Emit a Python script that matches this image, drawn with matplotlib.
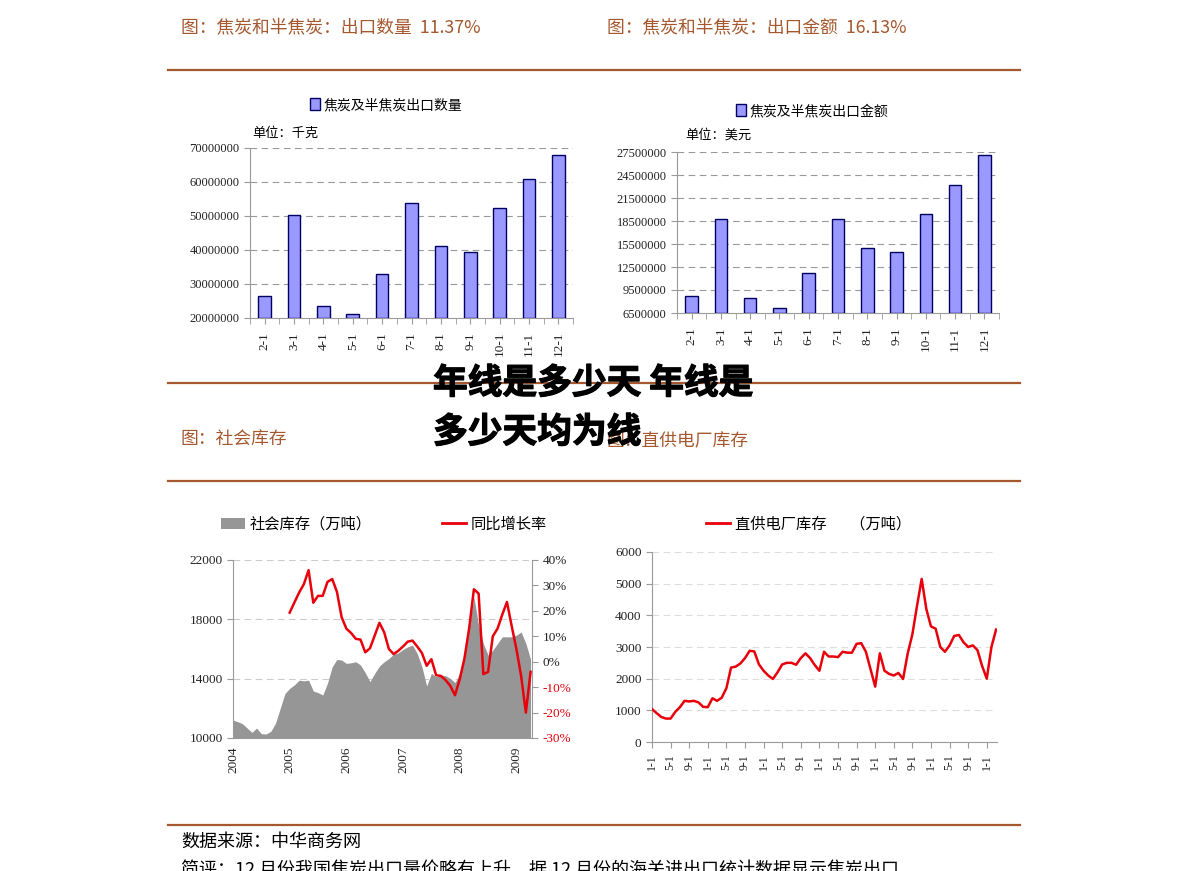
import numpy as np
import matplotlib.pyplot as plt
import matplotlib.patheffects as pe
from matplotlib.patches import Patch
from matplotlib.lines import Line2D

plt.rcParams['font.family'] = ['Liberation Serif', 'Noto Sans CJK SC']

W, H = 1191, 871
BROWN = '#A5582E'
GRAY_AX = '#9a9a9a'

# ---- data ----
bar_months = ['2-1', '3-1', '4-1', '5-1', '6-1', '7-1', '8-1', '9-1', '10-1', '11-1', '12-1']
export_qty = [26.5e6, 50.2e6, 23.5e6, 21.3e6, 32.9e6, 53.8e6, 41.2e6, 39.3e6, 52.3e6, 61.0e6, 67.8e6]
export_val = [8.7e6, 18.8e6, 8.4e6, 7.1e6, 11.7e6, 18.7e6, 15.0e6, 14.4e6, 19.4e6, 23.2e6, 27.1e6]

# social stock, monthly 2004-01 .. 2009-04
social_stock = [11200, 11100, 10960, 10670, 10380, 10670, 10290, 10270, 10450, 11000, 12000, 13000,
                13350, 13580, 13900, 13850, 13900, 13170, 13060, 12900, 13690, 14800, 15300, 15250,
                15030, 15070, 15140, 14920, 14400, 13800, 14360, 14850, 15140, 15360, 15650, 15740,
                15970, 16150, 16260, 15700, 14800, 13500, 14360, 14130, 14250, 14200, 14020, 13730,
                14360, 15480, 17490, 19500, 17600, 16370, 15590, 15920, 16370, 16820, 16820, 16820,
                16930, 17150, 16370, 15300]
# yoy growth (%), monthly 2005-01 .. 2009-04
yoy_growth = [19.3, 23.3, 27.2, 30.5, 36.0, 23.2, 25.9, 25.9, 31.4, 32.5, 27.5, 17.5,
              13.0, 11.3, 9.0, 8.7, 3.7, 5.3, 10.3, 15.3, 11.6, 5.0, 3.0, 4.3,
              6.0, 7.9, 8.3, 6.0, 3.4, -1.6, 1.0, -5.3, -5.6, -7.2, -9.5, -13.2,
              -6.9, 1.3, 13.2, 28.5, 26.8, -4.9, -4.0, 10.0, 13.0, 18.5, 23.5, 14.0,
              5.0, -5.6, -20.0, -4.0]
year_labels = ['2004', '2005', '2006', '2007', '2008', '2009']

# direct-supply power plant stock, monthly
plant_stock = [1040, 910, 790, 740, 740, 950, 1100, 1300, 1280, 1300, 1250, 1110,
               1100, 1380, 1300, 1400, 1700, 2350, 2380, 2480, 2650, 2880, 2860, 2450,
               2250, 2100, 1990, 2200, 2450, 2500, 2500, 2440, 2650, 2800, 2650, 2430,
               2250, 2850, 2700, 2700, 2680, 2850, 2820, 2820, 3100, 3120, 2850, 2300,
               1750, 2800, 2250, 2150, 2100, 2180, 1990, 2800, 3400, 4300, 5150, 4200,
               3650, 3580, 3000, 2850, 3050, 3350, 3380, 3150, 3000, 3050, 2900, 2400,
               2000, 3000, 3550]
plant_tick_labels = ['1-1', '5-1', '9-1']

footer_note = '简评：12 月份我国焦炭出口量价略有上升，据 12 月份的海关进出口统计数据显示焦炭出口'

fig = plt.figure(figsize=(W / 100, H / 100), dpi=100)


def px_axes(l, t, r, b):
    return fig.add_axes([l / W, 1 - b / H, (r - l) / W, (b - t) / H])


def fx(x):
    return x / W


def fy(y):
    return 1 - y / H


def style_axes(ax):
    for s in ['top', 'right']:
        ax.spines[s].set_visible(False)
    for s in ['left', 'bottom']:
        ax.spines[s].set_color(GRAY_AX)
    ax.tick_params(colors=GRAY_AX, labelcolor='#222222', length=4)


# ---- separator lines and headers ----
for y in [70, 383, 481, 825]:
    fig.add_artist(Line2D([fx(168), fx(1020)], [fy(y), fy(y)], color=BROWN, lw=1.6))

hdr = dict(color=BROWN, fontsize=12.8, va='center', family=['Noto Sans CJK SC'])
fig.text(fx(181), fy(28), '图：焦炭和半焦炭：出口数量  11.37%', **hdr)
fig.text(fx(607), fy(28), '图：焦炭和半焦炭：出口金额  16.13%', **hdr)
fig.text(fx(181), fy(440), '图：社会库存', **hdr)
fig.text(fx(607), fy(440), '图：直供电厂库存', **hdr)

# ---- bar charts ----
def bar_chart(box, values, ticks, unit, unit_xy, legend_label, legend_xy):
    ax = px_axes(*box)
    x = np.arange(len(values))
    base = ticks[0]
    ax.bar(x, np.array(values) - base, bottom=base, width=0.43,
           color='#9999FF', edgecolor='#000060', lw=1, zorder=3)
    ax.set_xlim(-0.5, len(values) - 0.5)
    ax.set_ylim(ticks[0], ticks[-1])
    ax.set_yticks(ticks)
    ax.set_yticklabels([str(int(t)) for t in ticks], fontsize=9)
    ax.set_xticks(x)
    ax.set_xticklabels(bar_months, rotation=90, fontsize=9.5)
    ax.tick_params(axis='x', length=0, pad=6)
    ax.set_xticks(np.arange(len(values) + 1) - 0.5, minor=True)
    ax.tick_params(axis='x', which='minor', length=4, color=GRAY_AX)
    for t in ticks[1:]:
        ax.axhline(t, color='#999999', lw=0.8, ls=(0, (6, 4)), zorder=1)
    style_axes(ax)
    fig.text(fx(unit_xy[0]), fy(unit_xy[1]), unit, fontsize=9.5, va='center',
             family=['Noto Sans CJK SC'])
    fig.legend(handles=[Patch(facecolor='#9999FF', edgecolor='#000060', lw=1)],
               labels=[legend_label], loc='center left',
               bbox_to_anchor=(fx(legend_xy[0]), fy(legend_xy[1])),
               frameon=False, handlelength=0.7, handleheight=0.9,
               handletextpad=0.3, borderpad=0, borderaxespad=0,
               prop={'family': ['Noto Sans CJK SC'], 'size': 10})
    return ax


bar_chart((250, 148, 573, 318), export_qty, list(np.arange(20e6, 70e6 + 1, 10e6)),
          '单位：千克', (252, 133), '焦炭及半焦炭出口数量', (310, 105))
bar_chart((677, 152, 999, 313), export_val, list(np.arange(6.5e6, 27.5e6 + 1, 3e6)),
          '单位：美元', (685, 135), '焦炭及半焦炭出口金额', (736, 111))

# ---- social stock chart ----
ax3 = px_axes(233, 560, 532, 738)
m3 = np.arange(len(social_stock))
ax3.fill_between(m3, 10000, social_stock, color='#969696', lw=0, zorder=2)
ax3.set_xlim(0, 63.3)
ax3.set_ylim(10000, 22000)
ax3.set_yticks([10000, 14000, 18000, 22000])
ax3.set_yticklabels(['10000', '14000', '18000', '22000'], fontsize=9.5)
for t in [14000, 18000, 22000]:
    ax3.axhline(t, color='#cccccc', lw=0.8, ls=(0, (6, 4)), zorder=1)
ax3.set_xticks(np.arange(0, 61, 12))
ax3.set_xticklabels(year_labels, rotation=90, fontsize=9.5)
style_axes(ax3)
ax3.tick_params(axis='x', length=0, pad=6)

ax3r = ax3.twinx()
ax3r.plot(np.arange(12, 12 + len(yoy_growth)), yoy_growth, color='#E8000B', lw=1.8, zorder=4)
ax3r.set_ylim(-30, 40)
rticks = list(range(-30, 41, 10))
ax3r.set_yticks(rticks)
ax3r.set_yticklabels([f'{t}%' for t in rticks], fontsize=9.5)
for s in ['top', 'left', 'bottom']:
    ax3r.spines[s].set_visible(False)
ax3r.spines['right'].set_color(GRAY_AX)
ax3r.tick_params(axis='y', colors=GRAY_AX, length=4)
for lab, t in zip(ax3r.get_yticklabels(), rticks):
    lab.set_color('#E8000B' if t < 0 else '#222222')

leg_prop = {'family': ['Noto Sans CJK SC'], 'size': 11}
fig.legend(handles=[Patch(facecolor='#969696', lw=0)], labels=['社会库存（万吨）'],
           loc='center left', bbox_to_anchor=(fx(221), fy(524)), frameon=False,
           handlelength=1.6, handleheight=0.7, handletextpad=0.3, borderpad=0,
           borderaxespad=0, prop=leg_prop)
fig.legend(handles=[Line2D([], [], color='#E8000B', lw=2)], labels=['同比增长率'],
           loc='center left', bbox_to_anchor=(fx(442), fy(524)), frameon=False,
           handlelength=1.6, handletextpad=0.3, borderpad=0, borderaxespad=0,
           prop=leg_prop)

# ---- power plant stock chart ----
ax4 = px_axes(652, 552, 997, 742)
m4 = np.arange(len(plant_stock))
ax4.plot(m4, plant_stock, color='#E8000B', lw=1.8, zorder=3)
ax4.set_xlim(0, 74.2)
ax4.set_ylim(0, 6000)
ax4.set_yticks(range(0, 6001, 1000))
ax4.set_yticklabels([str(t) for t in range(0, 6001, 1000)], fontsize=9.5)
for t in range(1000, 6001, 1000):
    ax4.axhline(t, color='#dddddd', lw=0.8, ls=(0, (6, 4)), zorder=1)
xt = np.arange(0, 73, 4)
ax4.set_xticks(xt)
ax4.set_xticklabels([plant_tick_labels[i % 3] for i in range(len(xt))], rotation=90, fontsize=8.5)
style_axes(ax4)
ax4.tick_params(axis='x', length=4, pad=5)
fig.legend(handles=[Line2D([], [], color='#E8000B', lw=2)],
           labels=['直供电厂库存       （万吨）'],
           loc='center left', bbox_to_anchor=(fx(706), fy(524)), frameon=False,
           handlelength=1.6, handletextpad=0.3, borderpad=0, borderaxespad=0,
           prop=leg_prop)

# ---- overlay title and footer ----
big = dict(fontsize=25, fontweight='black', color='black', va='center',
           family=['Noto Sans CJK SC'], zorder=10,
           path_effects=[pe.withStroke(linewidth=0.9, foreground='black')])
fig.text(fx(433), fy(383), '年线是多少天 年线是', **big)
fig.text(fx(433), fy(432), '多少天均为线', **big)

fig.text(fx(181), fy(842), '数据来源：中华商务网', fontsize=13, va='center',
         family=['Noto Sans CJK SC'])
fig.text(fx(181), fy(861), footer_note, fontsize=13, va='top',
         family=['Noto Sans CJK SC'])

fig.savefig('out.png', dpi=100)
